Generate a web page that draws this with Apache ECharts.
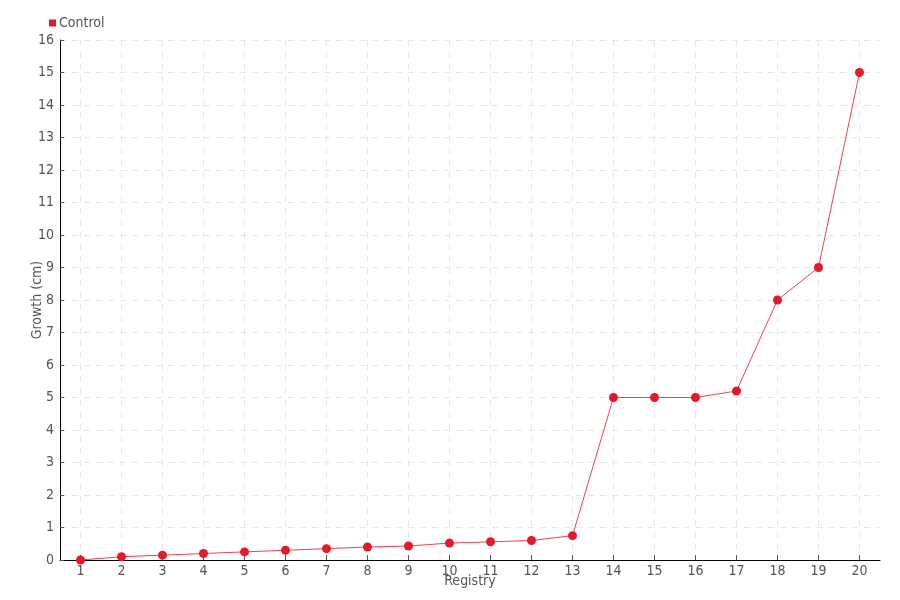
<!DOCTYPE html>
<html>
<head>
<meta charset="utf-8">
<script src="https://cdn.jsdelivr.net/npm/echarts@6/dist/echarts.min.js"></script>
<style>
  html, body { margin: 0; padding: 0; background: #fff; }
  #chart { width: 900px; height: 600px; }
</style>
</head>
<body>
<div id="chart"></div>
<script>
// data
const registry = [1, 2, 3, 4, 5, 6, 7, 8, 9, 10,
  11, 12, 13, 14, 15, 16, 17, 18, 19, 20]
const control = [0, 0.1, 0.15, 0.2, 0.25, 0.3, 0.35, 0.4, 0.43, 0.52,
  0.56, 0.6, 0.75, 5, 5, 5, 5.2, 8, 9, 15]

const font = '"DejaVu Sans Condensed", "DejaVu Sans", sans-serif'
const chart = echarts.init(document.getElementById('chart'))

// registry numbers on a value axis so the grid lines sit under each point
const points = registry.map((r, i) => [r, control[i]])

chart.setOption({
  animation: false,
  textStyle: { fontFamily: font },
  legend: {
    left: 44,
    top: 11,
    icon: 'rect',
    itemWidth: 7,
    itemHeight: 7,
    itemGap: 4,
    textStyle: { color: '#555', fontSize: 14, fontFamily: font, padding: [0, 0, 0, -2] }
  },
  grid: {
    left: 60,
    right: 20,
    top: 40,
    bottom: 40
  },
  xAxis: {
    type: 'value',
    min: 0.5,
    max: 20.5,
    name: 'Registry',
    nameLocation: 'middle',
    nameGap: 14,
    nameMoveOverlap: false,
    nameTextStyle: { color: '#555', fontSize: 14 },
    axisLine: { lineStyle: { color: '#000' } },
    axisTick: { show: true, inside: true, customValues: registry, lineStyle: { color: '#555' } },
    axisLabel: { color: '#555', fontSize: 14, margin: 4, customValues: registry },
    splitLine: { show: true, lineStyle: { color: '#e6e6e6', type: [6, 6] } }
  },
  yAxis: {
    type: 'value',
    min: 0,
    max: 16,
    interval: 1,
    name: 'Growth (cm)',
    nameLocation: 'middle',
    nameGap: 16,
    nameMoveOverlap: false,
    nameTextStyle: { color: '#555', fontSize: 14 },
    axisLine: { show: true, lineStyle: { color: '#000' } },
    axisTick: { show: true, inside: true, length: 4, lineStyle: { color: '#555' } },
    axisLabel: { color: '#555', fontSize: 14, margin: 6 },
    splitLine: { show: true, lineStyle: { color: '#e6e6e6', type: [6, 6] } }
  },
  series: [{
    name: 'Control',
    type: 'line',
    data: points,
    symbol: 'circle',
    symbolSize: 9,
    itemStyle: { color: '#e31a2a' },
    lineStyle: { color: '#f2404d', width: 1 }
  }]
})
</script>
</body>
</html>
